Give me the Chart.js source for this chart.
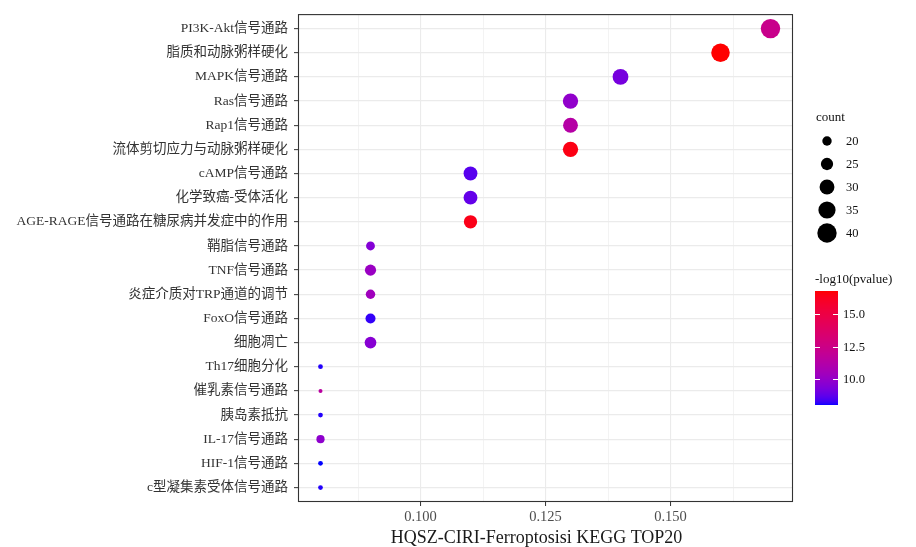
<!DOCTYPE html>
<html>
<head>
<meta charset="utf-8">
<script src="https://cdn.jsdelivr.net/npm/chart.js@4/dist/chart.umd.min.js"></script>
<style>
  html, body { margin: 0; padding: 0; background: #ffffff; }
  #wrap { width: 916px; height: 547px; position: relative; }
</style>
</head>
<body>
<div id="wrap"><canvas id="chart" width="916" height="547"></canvas></div>
<script>
// KEGG enrichment, top 20 pathways (top to bottom)
const pathways = [
  'PI3K-Akt信号通路',
  '脂质和动脉粥样硬化',
  'MAPK信号通路',
  'Ras信号通路',
  'Rap1信号通路',
  '流体剪切应力与动脉粥样硬化',
  'cAMP信号通路',
  '化学致癌-受体活化',
  'AGE-RAGE信号通路在糖尿病并发症中的作用',
  '鞘脂信号通路',
  'TNF信号通路',
  '炎症介质对TRP通道的调节',
  'FoxO信号通路',
  '细胞凋亡',
  'Th17细胞分化',
  '催乳素信号通路',
  '胰岛素抵抗',
  'IL-17信号通路',
  'HIF-1信号通路',
  'c型凝集素受体信号通路'
];
const geneRatio = [0.17, 0.16, 0.14, 0.13, 0.13, 0.13, 0.11, 0.11, 0.11,
                   0.09, 0.09, 0.09, 0.09, 0.09, 0.08, 0.08, 0.08, 0.08, 0.08, 0.08];
const geneCount = [40, 38, 32, 31, 30, 31, 28, 28, 27,
                   19, 23, 20, 21, 24, 13, 12, 13, 18, 13, 13];
const negLog10P = [12.3, 16.8, 9.2, 9.9, 11.3, 16.5, 8.6, 8.8, 16.4,
                   9.5, 10.2, 10.4, 8.2, 9.6, 8.1, 11.5, 8.1, 9.8, 8.0, 8.1];

const xTickValues = [0.100, 0.125, 0.150];
const sizeBreaks = [20, 25, 30, 35, 40];
const colorBreaks = [10.0, 12.5, 15.0];
const xTitle = 'HQSZ-CIRI-Ferroptosisi KEGG TOP20';
const sizeTitle = 'count';
const colorTitle = '-log10(pvalue)';

const FONT = "'Liberation Serif', 'Noto Sans CJK SC', serif";

// ---- size scale (area based, like scale_size) ----
const R_MIN = 2.0, R_MAX = 9.7;
const cMin = Math.min(...geneCount), cMax = Math.max(...geneCount);
function radiusFor(c) {
  const t = (Math.sqrt(c) - Math.sqrt(cMin)) / (Math.sqrt(cMax) - Math.sqrt(cMin));
  return R_MIN + (R_MAX - R_MIN) * t;
}

// ---- colour scale: blue -> red interpolated in CIE Lab ----
const LOW = [0, 0, 255], HIGH = [255, 0, 0];
const WN = [0.95047, 1.0, 1.08883];
function toLin(c) { c /= 255; return c <= 0.04045 ? c / 12.92 : Math.pow((c + 0.055) / 1.055, 2.4); }
function fromLin(c) {
  c = Math.max(0, Math.min(1, c));
  return Math.round(255 * (c <= 0.0031308 ? 12.92 * c : 1.055 * Math.pow(c, 1 / 2.4) - 0.055));
}
const D = 6 / 29;
function fLab(t) { return t > D * D * D ? Math.cbrt(t) : t / (3 * D * D) + 4 / 29; }
function fInv(t) { return t > D ? t * t * t : 3 * D * D * (t - 4 / 29); }
function rgbToLab(rgb) {
  const [r, g, b] = rgb.map(toLin);
  const X = (0.4124 * r + 0.3576 * g + 0.1805 * b) / WN[0];
  const Y = (0.2126 * r + 0.7152 * g + 0.0722 * b) / WN[1];
  const Z = (0.0193 * r + 0.1192 * g + 0.9505 * b) / WN[2];
  const fx = fLab(X), fy = fLab(Y), fz = fLab(Z);
  return [116 * fy - 16, 500 * (fx - fy), 200 * (fy - fz)];
}
function labToRgb(lab) {
  const fy = (lab[0] + 16) / 116, fx = fy + lab[1] / 500, fz = fy - lab[2] / 200;
  const X = WN[0] * fInv(fx), Y = WN[1] * fInv(fy), Z = WN[2] * fInv(fz);
  const r = 3.2406 * X - 1.5372 * Y - 0.4986 * Z;
  const g = -0.9689 * X + 1.8758 * Y + 0.0415 * Z;
  const b = 0.0557 * X - 0.2040 * Y + 1.0570 * Z;
  return [fromLin(r), fromLin(g), fromLin(b)];
}
const LAB_LOW = rgbToLab(LOW), LAB_HIGH = rgbToLab(HIGH);
const pMin = Math.min(...negLog10P), pMax = Math.max(...negLog10P);
function colorFor(v) {
  const t = Math.max(0, Math.min(1, (v - pMin) / (pMax - pMin)));
  const lab = LAB_LOW.map((l, i) => l + (LAB_HIGH[i] - l) * t);
  const [r, g, b] = labToRgb(lab);
  return `rgb(${r},${g},${b})`;
}

// ---- x range: data range expanded by 5% on each side ----
const xLo = Math.min(...geneRatio), xHi = Math.max(...geneRatio);
const xPad = (xHi - xLo) * 0.05;
const xStep = xTickValues[1] - xTickValues[0];
const xGridValues = [];
for (let v = xTickValues[0] - xStep / 2; v <= xHi + xPad; v += xStep / 2) {
  if (v >= xLo - xPad) xGridValues.push(+v.toFixed(6));
}
function isMajorX(v) { return xTickValues.some(t => Math.abs(t - v) < 1e-9); }

const points = pathways.map((name, i) => ({
  x: geneRatio[i],
  y: i,
  r: radiusFor(geneCount[i]),
  count: geneCount[i],
  p: negLog10P[i]
}));

// ---- panel border, axis title and the two legends ----
const decorations = {
  id: 'decorations',
  beforeDraw(chart) {
    const ctx = chart.ctx;
    ctx.save();
    ctx.fillStyle = '#ffffff';
    ctx.fillRect(0, 0, chart.width, chart.height);
    ctx.restore();
  },
  afterDraw(chart) {
    const ctx = chart.ctx;
    const a = chart.chartArea;
    ctx.save();
    ctx.strokeStyle = '#333333';
    ctx.lineWidth = 1.1;
    ctx.strokeRect(a.left + 0.5, a.top + 0.5, a.right - a.left - 1, a.bottom - a.top - 1);

    // x axis title
    ctx.fillStyle = '#1a1a1a';
    ctx.font = `18px ${FONT}`;
    ctx.textAlign = 'center';
    ctx.textBaseline = 'middle';
    ctx.fillText(xTitle, (a.left + a.right) / 2 - 9, 538);

    // size legend
    const lx = a.right + 22;
    ctx.fillStyle = '#111111';
    ctx.font = `13px ${FONT}`;
    ctx.textAlign = 'left';
    ctx.fillText(sizeTitle, lx + 1, 118);
    sizeBreaks.forEach((c, i) => {
      const cy = 141 + i * 23;
      ctx.beginPath();
      ctx.arc(lx + 12, cy, radiusFor(c), 0, Math.PI * 2);
      ctx.fillStyle = '#000000';
      ctx.fill();
      ctx.fillStyle = '#111111';
      ctx.font = `12.5px ${FONT}`;
      ctx.fillText(String(c), lx + 31, cy + 0.5);
    });

    // colour bar
    const bx = lx, bTop = 291, bH = 114, bW = 23;
    ctx.font = `13px ${FONT}`;
    ctx.fillStyle = '#111111';
    ctx.fillText(colorTitle, bx, 280);
    for (let k = 0; k < bH; k++) {
      const v = pMax - (k + 0.5) / bH * (pMax - pMin);
      ctx.fillStyle = colorFor(v);
      ctx.fillRect(bx, bTop + k, bW, 1);
    }
    ctx.strokeStyle = '#ffffff';
    ctx.lineWidth = 1;
    colorBreaks.forEach(v => {
      const y = Math.round(bTop + (pMax - v) / (pMax - pMin) * bH) + 0.5;
      ctx.beginPath();
      ctx.moveTo(bx, y); ctx.lineTo(bx + 5, y);
      ctx.moveTo(bx + bW - 5, y); ctx.lineTo(bx + bW, y);
      ctx.stroke();
      ctx.fillStyle = '#111111';
      ctx.font = `12.5px ${FONT}`;
      ctx.fillText(v.toFixed(1), bx + 28, y);
    });
    ctx.restore();
  }
};

new Chart(document.getElementById('chart'), {
  type: 'bubble',
  data: {
    datasets: [{
      data: points,
      backgroundColor: ctx => colorFor(ctx.raw ? ctx.raw.p : pMin),
      borderWidth: 0,
      hoverBorderWidth: 0
    }]
  },
  options: {
    responsive: false,
    animation: false,
    devicePixelRatio: 1,
    events: [],
    layout: { padding: { left: 0, right: 123, top: 14, bottom: 0 } },
    plugins: { legend: { display: false }, tooltip: { enabled: false } },
    scales: {
      x: {
        type: 'linear',
        position: 'bottom',
        min: xLo - xPad,
        max: xHi + xPad,
        afterBuildTicks: scale => { scale.ticks = xGridValues.map(v => ({ value: v })); },
        afterFit: scale => { scale.height = 45; },
        border: { display: false },
        grid: {
          color: '#ebebeb',
          lineWidth: ctx => (ctx.tick && isMajorX(ctx.tick.value)) ? 1.1 : 0.6,
          tickColor: ctx => (ctx.tick && isMajorX(ctx.tick.value)) ? '#333333' : 'rgba(0,0,0,0)',
          tickLength: 4,
          tickWidth: 1
        },
        ticks: {
          autoSkip: false,
          maxRotation: 0,
          padding: 2,
          color: '#4d4d4d',
          font: { family: FONT, size: 14.5 },
          callback: v => isMajorX(v) ? v.toFixed(3) : ''
        }
      },
      y: {
        type: 'linear',
        position: 'left',
        reverse: true,
        min: -0.6,
        max: pathways.length - 1 + 0.6,
        afterBuildTicks: scale => { scale.ticks = pathways.map((_, i) => ({ value: i })); },
        afterFit: scale => { scale.width = 298; },
        border: { display: false },
        grid: {
          color: '#ebebeb',
          lineWidth: 1.3,
          tickColor: '#333333',
          tickLength: 4,
          tickWidth: 1
        },
        ticks: {
          autoSkip: false,
          padding: 6,
          color: '#333333',
          font: { family: FONT, size: 13.5 },
          callback: v => pathways[v]
        }
      }
    }
  },
  plugins: [decorations]
});
</script>
</body>
</html>
